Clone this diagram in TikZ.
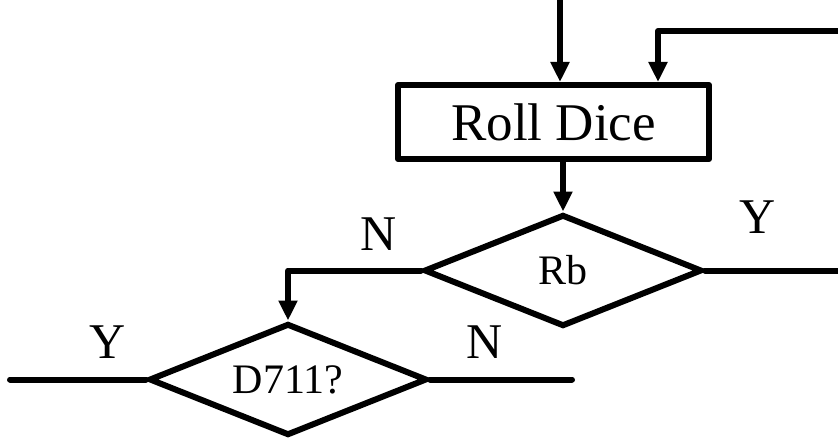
\documentclass[tikz,border=0pt]{standalone}
\usepackage{fontspec}
\setmainfont{Liberation Serif}
\usetikzlibrary{shapes.geometric,arrows.meta}
\begin{document}
\begin{tikzpicture}[x=1pt,y=-1pt,
  wire/.style={line width=6pt,line cap=round,line join=round},
  arr/.style={wire,-{Triangle[length=20pt,width=18pt]}},
  procbox/.style={draw,line width=6pt,line join=round,rectangle,inner sep=0pt,
    minimum width=311pt,minimum height=74pt,font=\fontsize{53}{60}\selectfont},
  decis/.style={draw,line width=6pt,diamond,inner sep=0pt,shape aspect=2.47,
    minimum width=278pt,minimum height=112pt,font=\fontsize{42}{48}\selectfont},
  lbl/.style={inner sep=0pt,font=\fontsize{50}{56}\selectfont}]
\useasboundingbox (0,0) rectangle (838,444);
\node[procbox] (box) at (553.5,122) {Roll Dice};
\node[decis] (rb) at (563,270.5) {Rb};
\node[decis] (d7) at (288,379.5) {D711?};
\coordinate (in1) at (560,0);
\coordinate (fb) at (838,31);
\coordinate (rbY) at (838,270.5);
\coordinate (d7Y) at (10,379.5);
\coordinate (d7N) at (572,379.5);
\draw[arr] (in1) -- (in1 |- box.north);
\draw[arr] (fb) -| ([xshift=104.5pt]box.north);
\draw[arr] ([xshift=9.5pt]box.south) -- (rb.north);
\draw[wire] (rb.east) -- (rbY);
\draw[arr] (rb.west) -| (d7.north);
\draw[wire] (d7.west) -- (d7Y);
\draw[wire] (d7.east) -- (d7N);
\node[lbl] (nRb) at (379,234) {N};
\node[lbl] (yRb) at (757.5,217.5) {Y};
\node[lbl] (yD7) at (108,342.5) {Y};
\node[lbl] (nD7) at (485,342.5) {N};
\end{tikzpicture}
\end{document}
